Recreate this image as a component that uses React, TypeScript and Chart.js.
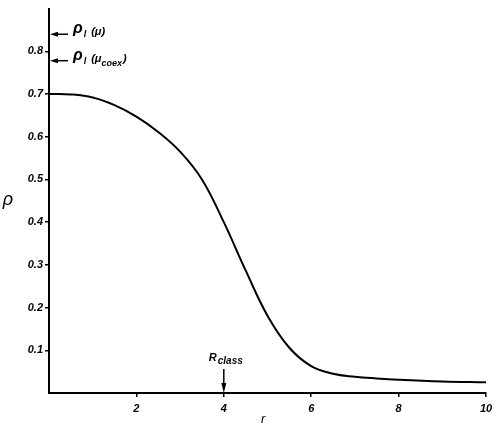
import { useEffect, useRef } from 'react';
import { Chart, registerables } from 'chart.js';

Chart.register(...registerables);

// Density profile rho(r)
const rValues = [0, 0.5, 1.0, 1.5, 2.0, 2.5, 3.0, 3.5, 4.0, 4.5, 5.0, 5.5, 6.0, 6.5, 7.0, 7.5, 8.0, 9.0, 10.0];
const rhoValues = [0.700, 0.699, 0.692, 0.674, 0.647, 0.611, 0.565, 0.500, 0.400, 0.287, 0.181, 0.106, 0.063, 0.045, 0.038, 0.034, 0.031, 0.027, 0.025];

const xTickValues = [2, 4, 6, 8, 10];
const yTickValues = [0.1, 0.2, 0.3, 0.4, 0.5, 0.6, 0.7, 0.8];

// Arrow markers on the rho axis: rho_l(mu), rho_l(mu_coex)
const levelValues = [0.84, 0.778];
const levelArgs = ['μ', 'μ'];
const levelSubs = ['', 'coex'];

// Arrow marker on the r axis
const rClassValue = 4;

const FONT = '"Liberation Sans", "DejaVu Sans", sans-serif';

const annotPlugin = {
  id: 'annot',
  afterDraw(chart: any) {
    const ctx = chart.ctx as CanvasRenderingContext2D;
    const xs = chart.scales.x;
    const ys = chart.scales.y;
    const left = chart.chartArea.left;
    ctx.save();
    ctx.fillStyle = '#000';
    ctx.strokeStyle = '#000';
    ctx.textAlign = 'left';
    ctx.textBaseline = 'alphabetic';

    levelValues.forEach((v, i) => {
      const py = ys.getPixelForValue(v);
      ctx.lineWidth = 1.5;
      ctx.beginPath();
      ctx.moveTo(left + 19, py);
      ctx.lineTo(left + 6, py);
      ctx.stroke();
      ctx.beginPath();
      ctx.moveTo(left + 1, py);
      ctx.lineTo(left + 9, py - 2.5);
      ctx.lineTo(left + 9, py + 2.5);
      ctx.closePath();
      ctx.fill();
      let tx = left + 24;
      ctx.font = `italic bold 16px ${FONT}`;
      ctx.fillText('ρ', tx, py - 1);
      tx += ctx.measureText('ρ').width + 1;
      ctx.font = `italic bold 9px ${FONT}`;
      ctx.fillText('l', tx, py + 3);
      tx += ctx.measureText('l').width + 5;
      ctx.font = `italic bold 11px ${FONT}`;
      ctx.fillText('(' + levelArgs[i], tx, py + 1);
      tx += ctx.measureText('(' + levelArgs[i]).width;
      if (levelSubs[i]) {
        ctx.font = `italic bold 9px ${FONT}`;
        ctx.fillText(levelSubs[i], tx, py + 5);
        tx += ctx.measureText(levelSubs[i]).width + 1;
      }
      ctx.font = `italic bold 11px ${FONT}`;
      ctx.fillText(')', tx, py + 1);
    });

    const px = xs.getPixelForValue(rClassValue);
    const bottom = chart.chartArea.bottom;
    ctx.lineWidth = 1.5;
    ctx.beginPath();
    ctx.moveTo(px, bottom - 24);
    ctx.lineTo(px, bottom - 6);
    ctx.stroke();
    ctx.beginPath();
    ctx.moveTo(px, bottom);
    ctx.lineTo(px - 2.5, bottom - 10);
    ctx.lineTo(px + 2.5, bottom - 10);
    ctx.closePath();
    ctx.fill();
    ctx.font = `italic bold 11px ${FONT}`;
    ctx.fillText('R', px - 15, bottom - 32);
    const rw = ctx.measureText('R').width;
    ctx.font = `italic bold 10px ${FONT}`;
    ctx.fillText('class', px - 15 + rw + 1, bottom - 29);

    ctx.font = `italic 18px ${FONT}`;
    ctx.textAlign = 'center';
    ctx.fillText('ρ', 8, ys.getPixelForValue(0.45) + 4);
    ctx.font = `italic 13px ${FONT}`;
    ctx.fillText('r', xs.getPixelForValue(4.9), bottom + 30);
    ctx.restore();
  },
};

export default function App() {
  const ref = useRef<HTMLCanvasElement>(null);
  useEffect(() => {
    const tickFont = { family: FONT, size: 11, style: 'italic' as const, weight: 'bold' as const };
    const chart = new Chart(ref.current!, {
      type: 'line',
      data: {
        datasets: [
          {
            data: rValues.map((r, i) => ({ x: r, y: rhoValues[i] })),
            borderColor: '#000',
            borderWidth: 2,
            pointRadius: 0,
            tension: 0.4,
            fill: false,
          },
        ],
      },
      options: {
        responsive: false,
        animation: false,
        devicePixelRatio: 1,
        layout: { padding: { left: 0, top: 5, right: 18, bottom: 0 } },
        plugins: { legend: { display: false }, tooltip: { enabled: false } },
        scales: {
          x: {
            type: 'linear',
            min: 0,
            max: 10,
            afterBuildTicks: (s: any) => {
              s.ticks = xTickValues.map((v) => ({ value: v }));
            },
            afterFit: (s: any) => {
              s.height = 35;
            },
            grid: { drawOnChartArea: false, drawTicks: true, tickLength: 4, color: '#000', lineWidth: 1.5 },
            border: { color: '#000', width: 2 },
            ticks: { color: '#000', font: tickFont, padding: 5, maxRotation: 0, callback: (v: any) => String(v) },
          },
          y: {
            type: 'linear',
            min: 0,
            max: 0.9,
            afterBuildTicks: (s: any) => {
              s.ticks = yTickValues.map((v) => ({ value: v }));
            },
            afterFit: (s: any) => {
              s.width = 49;
            },
            grid: { drawOnChartArea: false, drawTicks: true, tickLength: 4, color: '#000', lineWidth: 1.5 },
            border: { color: '#000', width: 2 },
            ticks: { color: '#000', font: tickFont, padding: 2, callback: (v: any) => Number(v).toFixed(1) },
          },
        },
      },
      plugins: [annotPlugin],
    });
    return () => chart.destroy();
  }, []);
  return (
    <div style={{ position: 'absolute', left: 0, top: 0, width: 504, height: 428, background: '#fff' }}>
      <canvas ref={ref} width={504} height={428} style={{ display: 'block' }} />
    </div>
  );
}
